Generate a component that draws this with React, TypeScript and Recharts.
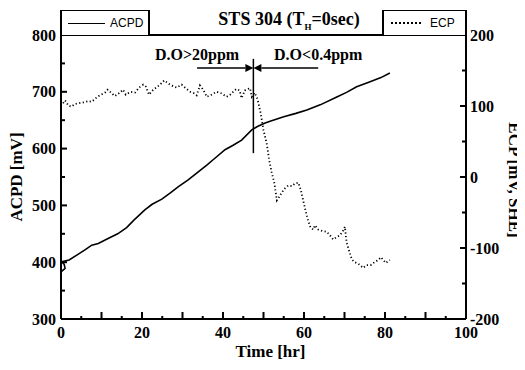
import React from 'react';
import { LineChart, Line, XAxis, YAxis, ReferenceLine, Legend } from 'recharts';

// ---- data ----
const acpdTime = [0, 1, 0.8, 0.2, 2, 4, 6, 7.6, 9.2, 12, 14, 16.2, 18, 20.7, 22.5, 24.9, 27, 29, 31.4, 33.5, 36, 38, 40.5, 42.5, 44.6, 47.1, 48.5, 50.4, 52, 55, 58, 60.7, 64, 68.1, 70.5, 73, 76, 79, 81.2];
const acpdValue = [383, 389, 396, 401, 404, 413, 422, 430, 433, 443, 450, 461, 474, 492, 502, 511, 522, 533, 545, 557, 571, 583, 598, 606, 615, 633, 639, 645, 649, 656, 662, 668, 677, 691, 699, 709, 717, 725, 733];

const ecpTime = [0.5, 1.0, 1.8, 2.5, 3.5, 4.5, 5.5, 6.7, 7.6, 8.8, 9.6, 10.9, 11.5, 12.5, 13.3, 14.6, 15.3, 16, 17.2, 18.3, 19.3, 20.3, 21, 21.7, 22.8, 23.8, 24.6, 25.5, 26.9, 28, 28.6, 29.8, 30.8, 31.9, 32.8, 33.5, 34.3, 35.1, 36, 37.2, 38.4, 39.5, 40.9, 41.8, 42.5, 43.3, 44.1, 44.6, 45.4, 46.2, 46.7, 47.1, 47.8, 48.5, 49.3, 50, 50.8, 51.4, 52, 52.7, 53.3, 53.9, 54.5, 55.3, 56.1, 57, 57.8, 58.6, 59.2, 59.8, 60.4, 61, 61.6, 62.3, 62.7, 63.5, 64.5, 65.6, 66.4, 67.2, 68, 68.9, 69.6, 70.1, 70.5, 71.2, 71.8, 72.5, 73.4, 74.6, 75.5, 76.5, 77.4, 78.3, 79, 79.6, 80.2, 81.2];
const ecpValue = [104, 108, 101, 99, 103, 104, 105, 107, 106, 112, 115, 119, 123, 118, 114, 119, 123, 116, 120, 119, 126, 130, 127, 116, 123, 127, 131, 136, 130, 127, 126, 130, 125, 120, 118, 115, 129, 123, 113, 116, 120, 118, 113, 116, 120, 124, 122, 111, 122, 124, 125, 113, 119, 110, 90, 66, 47, 24, 7, -9, -33, -28, -22, -16, -12, -13, -9, -8, -18, -33, -48, -61, -71, -74, -68, -74, -76, -77, -82, -88, -85, -82, -76, -70, -92, -105, -116, -120, -122, -128, -124, -124, -120, -117, -113, -117, -121, -117];

const xTicks = [0, 5, 10, 15, 20, 25, 30, 35, 40, 45, 50, 55, 60, 65, 70, 75, 80, 85, 90, 95, 100];
const leftTicks = [300, 350, 400, 450, 500, 550, 600, 650, 700, 750, 800];
const rightTicks = [-200, -150, -100, -50, 0, 50, 100, 150, 200];

const titleMain = 'STS 304 (T';
const titleSub = 'H';
const titleEnd = '=0sec)';
const seriesNames = ['ACPD', 'ECP'];
const xLabel = 'Time [hr]';
const yLeftLabel = 'ACPD [mV]';
const yRightLabel = 'ECP [mV, SHE]';

// annotation (data units)
const changeTime = 47.5;
const markerLow = 592;
const markerHigh = 758;
const arrowLevel = 742;
const leftArrowTail = 33.6;
const rightArrowTail = 63.5;
const leftNote = 'D.O>20ppm';
const rightNote = 'D.O<0.4ppm';

const acpdData = acpdTime.map((t, i) => ({ t, v: acpdValue[i] }));
const ecpData = ecpTime.map((t, i) => ({ t, v: ecpValue[i] }));

const SERIF = "'Liberation Serif', 'Times New Roman', serif";
const SANS = "'Liberation Sans', Arial, sans-serif";
const tickStyle = { fontFamily: SERIF, fontWeight: 700, fontSize: 16, fill: '#000' };
const labelStyle = { fontFamily: SERIF, fontWeight: 700, fontSize: 17, fill: '#000' };

const XTick = (props: any) => {
  const { x, y, payload } = props;
  const v = payload.value;
  return v % 20 === 0 ? (
    <text x={x} y={Number(y) + 19} textAnchor="middle" style={tickStyle}>{v}</text>
  ) : <g />;
};

const LeftTick = (props: any) => {
  const { x, y, payload } = props;
  const v = payload.value;
  return v % 100 === 0 ? (
    <text x={Number(x) - 5} y={Number(y) + 5.5} textAnchor="end" style={tickStyle}>{v}</text>
  ) : <g />;
};

const RightTick = (props: any) => {
  const { x, y, payload } = props;
  const v = payload.value;
  return v % 100 === 0 ? (
    <text x={Number(x) + 4} y={Number(y) + 5.5} textAnchor="start" style={tickStyle}>{v}</text>
  ) : <g />;
};

// inward tick marks drawn from the library's own scale via reference lines
const xMark = (len: number) => (p: any) => {
  const x = Number(p.x1);
  const yb = Math.max(Number(p.y1), Number(p.y2));
  return <rect x={x - 1} y={yb - len} width={2} height={len} fill="#000" />;
};
const leftMark = (len: number) => (p: any) => {
  const y = Number(p.y1);
  const xl = Math.min(Number(p.x1), Number(p.x2));
  return <rect x={xl} y={y - 1} width={len} height={2} fill="#000" />;
};
const rightMark = (len: number) => (p: any) => {
  const y = Number(p.y1);
  const xr = Math.max(Number(p.x1), Number(p.x2));
  return <rect x={xr - len} y={y - 1} width={len} height={2} fill="#000" />;
};

const LeftAxisTitle = (props: any) => {
  const vb = props.viewBox || { x: 0, y: 27, width: 53, height: 284 };
  const cx = vb.x + 8.5;
  const cy = vb.y + vb.height / 2;
  return (
    <text transform={`translate(${cx},${cy}) rotate(-90)`} textAnchor="middle" dominantBaseline="central" style={labelStyle}>
      {yLeftLabel}
    </text>
  );
};

const RightAxisTitle = (props: any) => {
  const vb = props.viewBox || { x: 458, y: 27, width: 59, height: 284 };
  const cx = vb.x + 48;
  const cy = vb.y + vb.height / 2 + 3;
  return (
    <text transform={`translate(${cx},${cy}) rotate(90)`} textAnchor="middle" dominantBaseline="central" style={labelStyle}>
      {yRightLabel}
    </text>
  );
};

const XAxisTitle = (props: any) => {
  const vb = props.viewBox || { x: 53, y: 311, width: 405, height: 51 };
  return (
    <text x={vb.x + vb.width / 2 + 7} y={vb.y + 38} textAnchor="middle" style={labelStyle}>
      {xLabel}
    </text>
  );
};

const makeArrow = (note: string) => (p: any) => {
  const { x1, y1, x2, y2 } = p;
  const dir = x2 > x1 ? 1 : -1;
  const head = 8;
  const hw = 4;
  return (
    <g>
      <line x1={x1} y1={y1} x2={x2 - dir * head} y2={y2} stroke="#000" strokeWidth={1.5} />
      <polygon points={`${x2},${y2} ${x2 - dir * head},${y2 - hw} ${x2 - dir * head},${y2 + hw}`} fill="#000" />
      <text x={x1} y={y1 - 8} textAnchor="middle" style={tickStyle}>{note}</text>
    </g>
  );
};

const legendBox: React.CSSProperties = {
  position: 'absolute',
  top: 2,
  height: 25,
  boxSizing: 'border-box',
  borderTop: '1.5px solid #000',
  borderLeft: '2px solid #000',
  borderRight: '2px solid #000',
  background: '#fff',
  display: 'flex',
  alignItems: 'center',
  fontFamily: SANS,
  fontSize: 12,
  color: '#000',
};

const renderLegend = () => (
  <div style={{ position: 'relative', width: 517, height: 27 }}>
    <div style={{ ...legendBox, left: 52, width: 90, paddingLeft: 6 }}>
      <span style={{ display: 'inline-block', width: 37, borderTop: '1.5px solid #000', marginRight: 5 }} />
      <span>{seriesNames[0]}</span>
    </div>
    <div
      style={{
        position: 'absolute',
        left: 281,
        top: 1,
        transform: 'translateX(-50%)',
        whiteSpace: 'nowrap',
        fontFamily: SERIF,
        fontWeight: 700,
        fontSize: 18,
        lineHeight: '20px',
        color: '#000',
      }}
    >
      {titleMain}
      <sub style={{ fontSize: 9 }}>{titleSub}</sub>
      {titleEnd}
    </div>
    <div style={{ ...legendBox, left: 374, width: 85, paddingLeft: 7 }}>
      <span style={{ display: 'inline-block', width: 30, borderTop: '2px dotted #000', marginRight: 9 }} />
      <span>{seriesNames[1]}</span>
    </div>
  </div>
);

export default function App() {
  return (
    <LineChart width={517} height={362} margin={{ top: 27, right: 0, bottom: 0, left: 0 }}>
      <XAxis
        type="number"
        dataKey="t"
        domain={[0, 100]}
        ticks={xTicks}
        interval={0}
        tickLine={false}
        tickSize={0}
        tickMargin={0}
        height={51}
        axisLine={{ stroke: '#000', strokeWidth: 2 }}
        tick={<XTick />}
        label={{ content: <XAxisTitle /> }}
      />
      <YAxis
        yAxisId="left"
        orientation="left"
        type="number"
        domain={[300, 800]}
        ticks={leftTicks}
        interval={0}
        width={53}
        tickLine={false}
        tickSize={0}
        tickMargin={0}
        axisLine={{ stroke: '#000', strokeWidth: 2 }}
        tick={<LeftTick />}
        label={{ content: <LeftAxisTitle /> }}
      />
      <YAxis
        yAxisId="right"
        orientation="right"
        type="number"
        domain={[-200, 200]}
        ticks={rightTicks}
        interval={0}
        width={59}
        tickLine={false}
        tickSize={0}
        tickMargin={0}
        axisLine={{ stroke: '#000', strokeWidth: 2 }}
        tick={<RightTick />}
        label={{ content: <RightAxisTitle /> }}
      />
      <Legend
        layout="vertical"
        align="center"
        verticalAlign="middle"
        wrapperStyle={{ top: 0, left: 0, width: 517, height: 27 }}
        content={renderLegend}
      />
      <ReferenceLine yAxisId="left" y={800} stroke="#000" strokeWidth={2} />
      {xTicks.map((v) => (
        <ReferenceLine key={`xm${v}`} yAxisId="left" x={v} shape={xMark(v % 10 === 0 ? 7 : 3)} />
      ))}
      {leftTicks.map((v) => (
        <ReferenceLine key={`lm${v}`} yAxisId="left" y={v} shape={leftMark(v % 100 === 0 ? 6 : 4)} />
      ))}
      {rightTicks.map((v) => (
        <ReferenceLine key={`rm${v}`} yAxisId="right" y={v} shape={rightMark(v % 100 === 0 ? 6 : 4)} />
      ))}
      <ReferenceLine
        yAxisId="left"
        segment={[{ x: changeTime, y: markerLow }, { x: changeTime, y: markerHigh }]}
        stroke="#000"
        strokeWidth={1.5}
      />
      <ReferenceLine
        yAxisId="left"
        segment={[{ x: leftArrowTail, y: arrowLevel }, { x: changeTime, y: arrowLevel }]}
        shape={makeArrow(leftNote)}
      />
      <ReferenceLine
        yAxisId="left"
        segment={[{ x: rightArrowTail, y: arrowLevel }, { x: changeTime, y: arrowLevel }]}
        shape={makeArrow(rightNote)}
      />
      <Line
        yAxisId="left"
        data={acpdData}
        dataKey="v"
        name={seriesNames[0]}
        type="linear"
        stroke="#000"
        strokeWidth={1.6}
        dot={false}
        isAnimationActive={false}
      />
      <Line
        yAxisId="right"
        data={ecpData}
        dataKey="v"
        name={seriesNames[1]}
        type="linear"
        stroke="#000"
        strokeWidth={1.8}
        strokeDasharray="1.2 2.4"
        dot={false}
        isAnimationActive={false}
      />
    </LineChart>
  );
}
